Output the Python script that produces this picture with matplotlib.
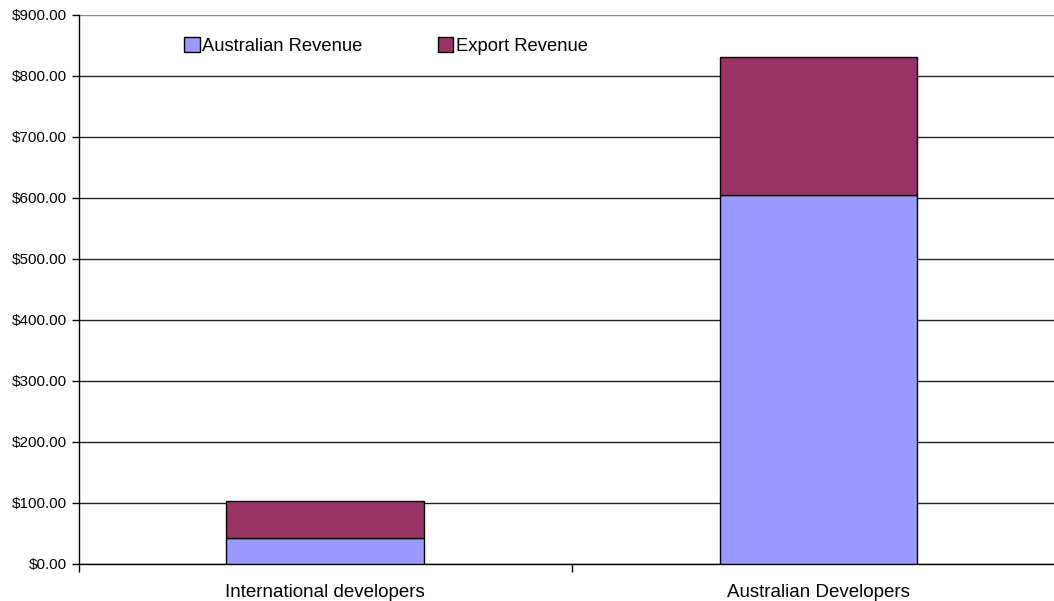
import numpy as np
import matplotlib
matplotlib.use("Agg")
import matplotlib.pyplot as plt
from matplotlib.ticker import FuncFormatter, FixedLocator

plt.rcParams['font.family'] = ['Liberation Sans', 'DejaVu Sans']

categories = ['International developers', 'Australian Developers']
australian_revenue = [42, 604]
export_revenue = [61, 227]
series_names = ['Australian Revenue', 'Export Revenue']
colors = ['#9999FF', '#993366']

fig = plt.figure(figsize=(10.54, 6.01), dpi=100)
W, H = 1054, 601
left, right, top, bottom = 78.5, 1065, 14.5, 563.5
ax = fig.add_axes([left / W, (H - bottom) / H, (right - left) / W, (bottom - top) / H])

x = np.arange(len(categories))
ax.bar(x, australian_revenue, width=0.4, color=colors[0], edgecolor='black',
       linewidth=1, label=series_names[0], zorder=3)
ax.bar(x, export_revenue, width=0.4, bottom=australian_revenue, color=colors[1],
       edgecolor='black', linewidth=1, label=series_names[1], zorder=3)

ax.set_xlim(-0.5, len(categories) - 0.5)
ax.set_ylim(0, 900)
ax.set_yticks(np.arange(0, 901, 100))
ax.yaxis.set_major_formatter(FuncFormatter(lambda v, p: '${:,.2f}'.format(v)))
ax.grid(axis='y', color='#222222', linewidth=1, zorder=0)
# top gridline looks lighter in the original
ax.get_ygridlines()[-1].set_color('#888888')

ax.set_xticks(x)
ax.set_xticklabels(categories, fontsize=13.5)
ax.xaxis.set_minor_locator(FixedLocator(np.arange(-0.5, len(categories), 1.0)))
ax.tick_params(axis='x', which='major', length=0, pad=15)
ax.tick_params(axis='x', which='minor', length=6, width=1, direction='out')
ax.tick_params(axis='y', length=5, width=1, direction='out', labelsize=11, pad=3.5)

for s in ['top', 'right']:
    ax.spines[s].set_visible(False)
ax.spines['left'].set_linewidth(1)
ax.spines['bottom'].set_linewidth(1)

fig.legend(loc='center left', bbox_to_anchor=(184 / W, 1 - 46 / H), ncol=2,
           frameon=False, fontsize=13.2, handlelength=0.85, handleheight=0.85,
           handletextpad=0.15, columnspacing=4.1, borderpad=0, borderaxespad=0)

fig.savefig('out.png', dpi=100)
